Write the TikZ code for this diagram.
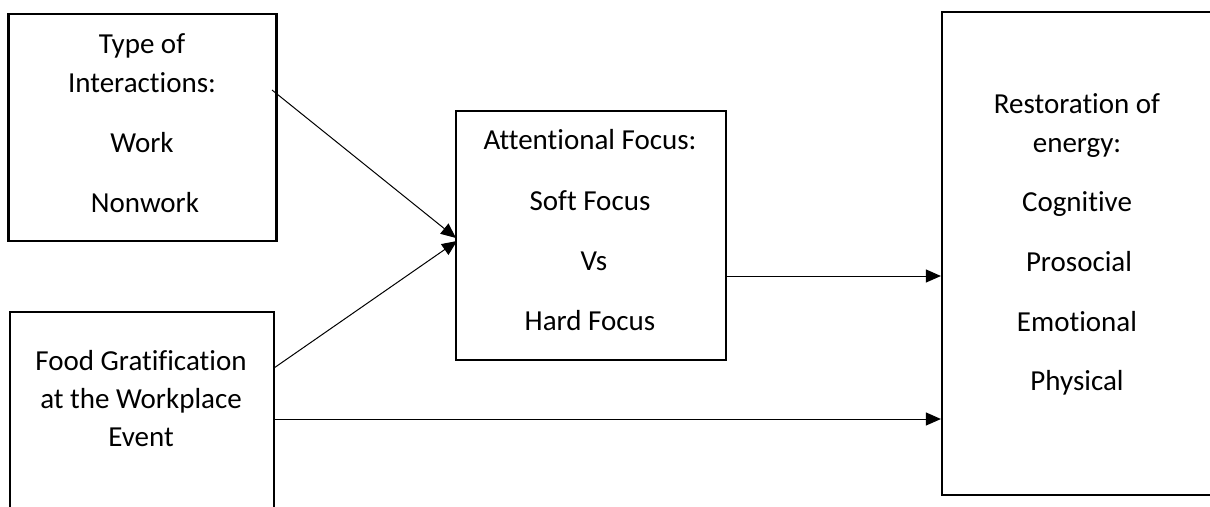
\documentclass[tikz,border=0pt]{standalone}
\usepackage{fontspec}
\setmainfont{Carlito}[Ligatures={NoCommon,NoContextual,NoRare}, Contextuals={NoAlternate}]
\usetikzlibrary{arrows.meta}
\begin{document}
\begin{tikzpicture}[x=1pt,y=-1pt,
  box/.style={draw, line width=2.2pt, rectangle, inner sep=0pt},
  lbl/.style={anchor=base, inner sep=0pt, font=\fontsize{29pt}{34pt}\selectfont},
  arr/.style={line width=1pt, -{Triangle[length=15pt,width=13pt]}}]
\useasboundingbox (0,0) rectangle (1210,506);
% boxes
\node[box, minimum width=268pt, minimum height=227pt] (types) at (142.5,127.5) {};
\node[box, minimum width=264pt, minimum height=218pt] (food) at (142,421) {};
\node[box, minimum width=270pt, minimum height=249pt] (focus) at (591,235.5) {};
\node[box, minimum width=288pt, minimum height=483pt] (rest) at (1086,253.5) {};
% texts
\node[lbl] (t1) at (142,53) {Type of};
\node[lbl] (t2) at (142,92) {Interactions:};
\node[lbl] (t3) at (142,152) {Work};
\node[lbl] (t4) at (145,212) {Nonwork};
\node[lbl] (f1) at (141,370) {Food Gratification};
\node[lbl] (f2) at (141,408) {at the Workplace};
\node[lbl] (f3) at (141,446) {Event};
\node[lbl] (a1) at (590,149) {Attentional Focus:};
\node[lbl] (a2) at (590,210) {Soft Focus};
\node[lbl] (a3) at (594,270) {Vs};
\node[lbl] (a4) at (590,330) {Hard Focus};
\node[lbl] (r1) at (1077,113) {Restoration of};
\node[lbl] (r2) at (1077,152) {energy:};
\node[lbl] (r3) at (1077,211) {Cognitive};
\node[lbl] (r4) at (1079,271) {Prosocial};
\node[lbl] (r5) at (1077,331) {Emotional};
\node[lbl] (r6) at (1077,390) {Physical};
% connector ends
\coordinate (s1) at (272,90);
\coordinate (e1) at (456,238);
\coordinate (s2) at (274,368);
\coordinate (e2) at (457,241);
\draw[arr] (s1) -- (e1);
\draw[arr] (s2) -- (e2);
\draw[arr] (focus.east |- 0,276) -- (rest.west |- 0,276);
\draw[arr] (food.east |- 0,419) -- (rest.west |- 0,419);
\end{tikzpicture}
\end{document}
